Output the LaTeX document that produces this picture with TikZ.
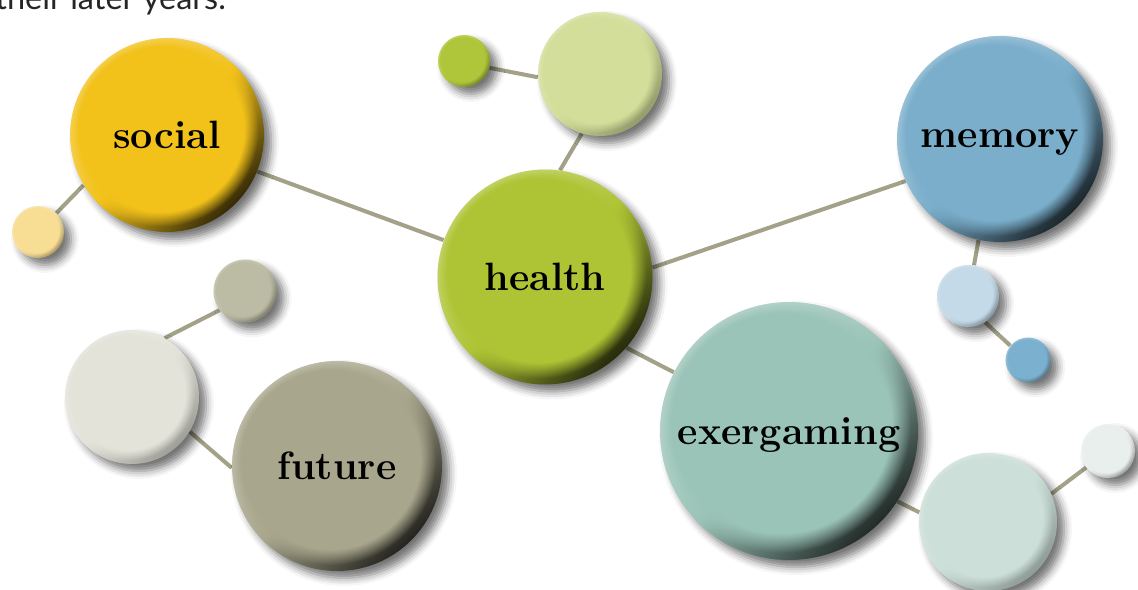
\documentclass[tikz,border=0pt]{standalone}
\usepackage{fontspec}
\usetikzlibrary{positioning, shadows.blur, fadings}

\newfontfamily\captionfont{Lato}

\definecolor{linkgrey}{HTML}{A3A288}
\definecolor{socialyellow}{HTML}{F2C21B}
\definecolor{healthgreen}{HTML}{AFC435}
\definecolor{memoryblue}{HTML}{7AAECB}
\definecolor{gamingteal}{HTML}{9BC4B8}
\definecolor{futuretaupe}{HTML}{A8A68C}
\definecolor{yellowdot}{HTML}{F8DD95}
\definecolor{greenpale}{HTML}{D3DE9A}
\definecolor{greendot}{HTML}{B0C63A}
\definecolor{bluepale}{HTML}{C4DAE8}
\definecolor{bluedot}{HTML}{7BB0CF}
\definecolor{tealpale}{HTML}{CCDFD8}
\definecolor{tealdot}{HTML}{E9EFEC}
\definecolor{greypale}{HTML}{E3E3DA}
\definecolor{greydot}{HTML}{BCBBA4}

\pgfdeclarelayer{background}
\pgfsetlayers{background,main}

\begin{document}
\begin{tikzpicture}[
	x=0.02cm,
	y=-0.02cm,
	link/.style={draw=linkgrey, line width=2.3pt},
	bubble/.style n args={3}{
		circle, inner sep=0pt, text=black,
		top color=#2, bottom color=#3, middle color=#1, shading angle=45,
		blur shadow={shadow xshift=4pt, shadow yshift=-4pt, shadow blur radius=4.5pt, shadow opacity=55},
		postaction={fill=#1, path fading=circle with fuzzy edge 15 percent,
			fading transform={xshift=-1.5pt, yshift=1.5pt}}
	},
	topic/.style={bubble={#1}{#1!45!white}{#1!22!black}, text depth=0pt,
		font=\fontsize{22.5}{27}\selectfont\bfseries},
	dot/.style={bubble={#1}{#1!50!white}{#1!70!black}}
]
\useasboundingbox (0,0) rectangle (1138,590);

\node[anchor=base west, inner sep=0pt, text=black!85,
	font=\captionfont\fontsize{18.5}{22}\selectfont] (caption) at (-5,10) {their later years.};

% main topics
\node[topic=socialyellow, minimum size=3.88cm] (social) at (167,135) {social};
\node[topic=healthgreen, minimum size=4.3cm] (health) at (545,277) {health};
\node[topic=memoryblue, minimum size=4.12cm] (memory) at (1000,139) {memory};
\node[topic=gamingteal, minimum size=5.16cm] (exergaming) at (789,431) {exergaming};
\node[topic=futuretaupe, minimum size=4.2cm] (future) at (337,466) {future};

% satellites
\node[dot=yellowdot, minimum size=1.04cm] (social1) at (38,232) {};
\node[dot=greenpale, minimum size=2.48cm] (health1) at (600,74) {};
\node[dot=greendot, minimum size=1.04cm] (health2) at (464,61) {};
\node[dot=bluepale, minimum size=1.24cm] (memory1) at (968,296) {};
\node[dot=bluedot, minimum size=0.9cm] (memory2) at (1028,360) {};
\node[dot=tealpale, minimum size=2.76cm] (gaming1) at (988,522) {};
\node[dot=tealdot, minimum size=1.08cm] (gaming2) at (1108,451) {};
\node[dot=greypale, minimum size=2.68cm] (future1) at (132,397) {};
\node[dot=greydot, minimum size=1.26cm] (future2) at (245,291) {};

\begin{pgfonlayer}{background}
\path[link]
	(social1) -- (social.211)
	(social.-22) -- (health.160)
	(health.82) -- (health1.253)
	(health1.183) -- (health2.-15)
	(health.5) -- (memory.204)
	(memory.258) -- (memory1.79)
	(memory1.-57) -- (memory2.141)
	(health.-41) -- (exergaming.153)
	(exergaming.-33) -- (gaming1.172)
	(gaming1.24) -- (gaming2.217)
	(future1.-31) -- (future.181)
	(future1.61) -- (future2.217);
\end{pgfonlayer}
\end{tikzpicture}
\end{document}
